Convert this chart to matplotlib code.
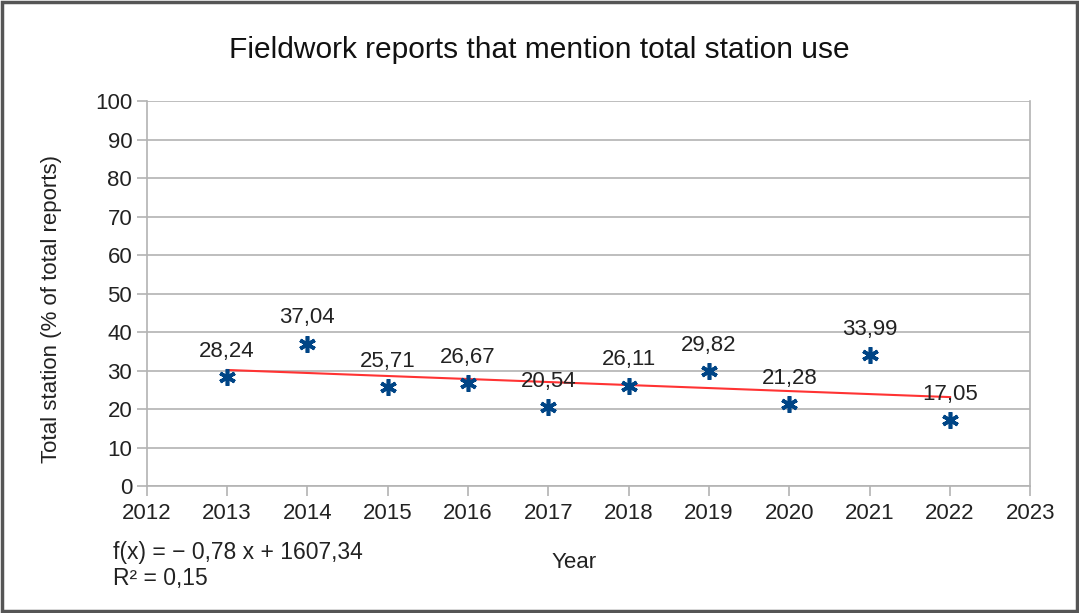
import numpy as np
import matplotlib.pyplot as plt
from matplotlib.patches import Rectangle

plt.rcParams['font.family'] = ['Liberation Sans', 'DejaVu Sans']

years = [2013, 2014, 2015, 2016, 2017, 2018, 2019, 2020, 2021, 2022]
share = [28.24, 37.04, 25.71, 26.67, 20.54, 26.11, 29.82, 21.28, 33.99, 17.05]
x_ticks = list(range(2012, 2024))
y_ticks = list(range(0, 101, 10))

fig = plt.figure(figsize=(10.79, 6.13), dpi=100)
ax = fig.add_axes([0.136, 0.207, 0.819, 0.628])

# linear trend like the spreadsheet one
slope, icpt = np.polyfit(years, share, 1)
xs = np.array([years[0], years[-1]])
ax.plot(xs, slope * xs + icpt, color='#ff3333', lw=1.5, zorder=2)

ax.plot(years, share, ls='none', marker=(6, 2, 0), ms=12, mew=2.6,
        color='#004586', zorder=3)

for x, y in zip(years, share):
    ax.annotate('{:.2f}'.format(y).replace('.', ','), (x, y),
                xytext=(0, 11), textcoords='offset points',
                ha='center', va='bottom', fontsize=16, color='#222222', zorder=4)

ax.set_xlim(2012, 2023)
ax.set_ylim(0, 100)
ax.set_xticks(x_ticks)
ax.set_yticks(y_ticks)
ax.yaxis.grid(True, color='#b3b3b3', lw=1.2)
ax.set_axisbelow(True)
for s in ax.spines.values():
    s.set_color('#b3b3b3')
    s.set_linewidth(1.2)
ax.spines['top'].set_visible(False)
ax.tick_params(axis='both', colors='#b3b3b3', labelcolor='#222222',
               labelsize=16, length=7, width=1.2)
ax.tick_params(axis='x', pad=5)

# axis titles placed like the spreadsheet does (not centred on the axes)
fig.text(0.532, 0.083, 'Year', ha='center', va='center', fontsize=16, color='#222222')
fig.text(0.048, 0.496, 'Total station (% of total reports)', rotation=90,
         ha='center', va='center', fontsize=16, color='#222222')
fig.text(0.5, 0.918, 'Fieldwork reports that mention total station use',
         ha='center', va='center', fontsize=21.5, color='#111111')

fig.text(0.105, 0.099, 'f(x) = \u2212 0,78 x + 1607,34', fontsize=16.5, color='#222222', va='center')
fig.text(0.105, 0.057, 'R\u00b2 = 0,15', fontsize=16.5, color='#222222', va='center')

fig.patches.append(Rectangle((0.002, 0.003), 0.996, 0.994, transform=fig.transFigure,
                             fill=False, ec='#555555', lw=2.5))

fig.savefig('out.png', dpi=100)
